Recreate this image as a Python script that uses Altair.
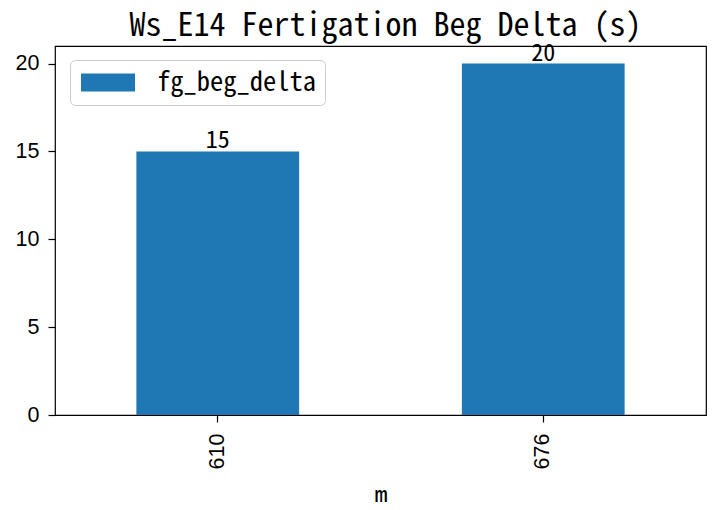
import altair as alt
import pandas as pd

categories = ["610", "676"]
values = [15, 20]
series_name = "fg_beg_delta"

df = pd.DataFrame({"m": categories, "value": values, "series": [series_name] * len(categories)})

CJK = "'Noto Sans Mono CJK SC', 'Noto Sans CJK SC', 'DejaVu Sans Mono'"
TICK = "'Liberation Sans', Arial, sans-serif"

base = alt.Chart(df).encode(
    x=alt.X("m:N", sort=categories,
            scale=alt.Scale(paddingInner=0.5, paddingOuter=0.25),
            axis=alt.Axis(title="m", labelAngle=270, labelFont=TICK, labelFontSize=21.5,
                          labelPadding=11, tickSize=7, tickWidth=1.2, tickColor="black",
                          labelColor="black", domain=False, titleFont=CJK, titleFontSize=26,
                          titleFontWeight="normal", titlePadding=14, titleColor="black",
                          labelBaseline="middle", labelAlign="right")),
    y=alt.Y("value:Q", scale=alt.Scale(domain=[0, 21], nice=False, zero=True),
            axis=alt.Axis(title=None, values=[0, 5, 10, 15, 20], grid=False, labelFont=TICK,
                          labelFontSize=21.5, labelPadding=9, tickSize=7, tickWidth=1.2,
                          tickColor="black", labelColor="black", domain=False)),
)

bars = base.mark_bar().encode(
    color=alt.Color("series:N", scale=alt.Scale(range=["#1f77b4"]),
                    legend=alt.Legend(title=None, orient="none", legendX=15, legendY=14,
                                      strokeColor="#cccccc", fillColor="white", cornerRadius=5,
                                      padding=9, labelFont=CJK, labelFontSize=26.5,
                                      labelColor="black", labelOffset=51,
                                      symbolType="M-0.85,-0.667H3.15V0.667H-0.85Z",
                                      symbolSize=729, symbolStrokeWidth=0, symbolOpacity=1))
)

labels = base.mark_text(baseline="alphabetic", dy=-3, font=CJK, fontSize=24, color="black").encode(
    text=alt.Text("value:Q")
)

chart = (bars + labels).properties(
    width=651, height=369,
    title=alt.TitleParams("Ws_E14 Fertigation Beg Delta (s)", font=CJK, fontSize=32,
                          fontWeight="normal", color="black", anchor="middle",
                          baseline="bottom", offset=8, dy=41, dx=5),
    autosize=alt.AutoSizeParams(type="none"),
    padding={"left": 47, "top": 38, "right": 1, "bottom": 87},
    background="white",
).configure_view(stroke="black", strokeWidth=1.2)

chart.save("out.html", embed_options={"renderer": "svg", "actions": False})
